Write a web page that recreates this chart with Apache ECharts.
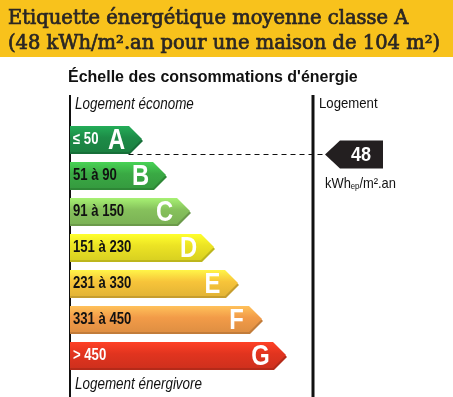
<!DOCTYPE html>
<html>
<head>
<meta charset="utf-8">
<script src="https://cdn.jsdelivr.net/npm/echarts@6/dist/echarts.min.js"></script>
<style>
html, body { margin: 0; padding: 0; background: #fff; }
#chart { width: 453px; height: 397px; }
</style>
</head>
<body>
<div id="chart"></div>
<script>
// energy classes, top to bottom
var classes = ['A', 'B', 'C', 'D', 'E', 'F', 'G'];
var ranges = ['≤ 50', '51 à 90', '91 à 150', '151 à 230', '231 à 330', '331 à 450', '> 450'];
var classMax = [50, 90, 150, 230, 330, 450, 600];
// length of each arrow, in steps
var barSteps = [3, 4, 5, 6, 7, 8, 9];
var barColors = ['#1d8b47', '#3aa944', '#86c15c', '#ece324', '#f7c43a', '#f29b48', '#e1341f'];
var rangeTextColors = ['#fff', '#111', '#111', '#111', '#111', '#111', '#fff'];
// the house
var measured = 48;
var measuredClass = 0;

// Arial-like font squeezed to look like a condensed Helvetica
var SANS = '"Liberation Sans", Arial, sans-serif';
var SQUEEZE = 0.82;

var chart = echarts.init(document.getElementById('chart'));

function shade(hex, k) {
    var c = echarts.color.parse(hex);
    var f = function (v) { return Math.max(0, Math.min(255, Math.round(v * k))); };
    return 'rgb(' + f(c[0]) + ',' + f(c[1]) + ',' + f(c[2]) + ')';
}

function arrowPoints(x0, y0, xt, h) {
    var xb = xt - h / 2;
    return [[x0, y0], [xb, y0], [xt, y0 + h / 2], [xb, y0 + h], [x0, y0 + h]];
}

function renderBar(params, api) {
    var i = api.value(0);
    var c = api.coord([0, i]);
    var t = api.coord([api.value(1), i]);
    var h = api.size([0, 1])[1] * 0.75;
    var y0 = c[1] - h / 2;
    var col = barColors[i];
    return {
        type: 'group',
        children: [
            {
                type: 'polygon',
                shape: { points: arrowPoints(c[0], y0 + 2, t[0] + 1, h - 1) },
                style: { fill: shade(col, 0.8) }
            },
            {
                type: 'polygon',
                shape: { points: arrowPoints(c[0], y0, t[0], h - 1) },
                style: {
                    fill: new echarts.graphic.LinearGradient(0, 0, 0, 1, [
                        { offset: 0, color: echarts.color.lift(col, -0.25) },
                        { offset: 0.45, color: col },
                        { offset: 1, color: shade(col, 0.92) }
                    ])
                }
            },
            {
                type: 'text',
                x: c[0] + 3, y: c[1],
                scaleX: SQUEEZE,
                style: {
                    text: ranges[i], fill: rangeTextColors[i],
                    font: 'bold 16px ' + SANS,
                    verticalAlign: 'middle', align: 'left'
                }
            },
            {
                type: 'text',
                x: t[0] - h / 2 - 12, y: c[1] + 1,
                scaleX: 0.82,
                style: {
                    text: classes[i], fill: '#fff',
                    font: 'bold 29px ' + SANS,
                    verticalAlign: 'middle', align: 'center'
                }
            }
        ]
    };
}

function renderMarker(params, api) {
    var i = api.value(0);
    var v = api.value(1);
    var cs = params.coordSys;
    var c = api.coord([0, i]);
    var t = api.coord([barSteps[i], i]);
    var pitch = api.size([0, 1])[1];
    var h = pitch * 0.75;
    var lo = i > 0 ? classMax[i - 1] : 0;
    var frac = (v - lo) / (classMax[i] - lo);
    var y = Math.round(c[1] + (frac - 0.5) * pitch * 0.85) + 0.5;
    var right = cs.x + cs.width;
    var tip = right + 12;
    var bh = 28;
    return {
        type: 'group',
        children: [
            {
                type: 'line',
                shape: { x1: t[0] - h / 2, y1: y, x2: tip, y2: y },
                style: { stroke: '#111', lineWidth: 1, lineDash: [5, 4] }
            },
            {
                type: 'polygon',
                shape: { points: [[tip, y], [tip + 15, y - bh / 2], [tip + 58, y - bh / 2], [tip + 58, y + bh / 2], [tip + 15, y + bh / 2]] },
                style: { fill: '#231f20' }
            },
            {
                type: 'text',
                x: tip + 36, y: y + 1,
                scaleX: 0.9,
                style: {
                    text: String(v), fill: '#fff',
                    font: 'bold 20px ' + SANS,
                    align: 'center', verticalAlign: 'middle'
                }
            },
            {
                type: 'text',
                x: tip, y: y + 29,
                scaleX: 0.86,
                style: {
                    text: '{a|kWh}{s|ep}{a|/m².an}',
                    align: 'left', verticalAlign: 'middle',
                    rich: {
                        a: { font: '15px ' + SANS, fill: '#111' },
                        s: { font: '9px ' + SANS, fill: '#111', padding: [7, 0, 0, 0] }
                    }
                }
            }
        ]
    };
}

chart.setOption({
    animation: false,
    backgroundColor: '#fff',
    grid: { left: 70, right: 140, top: 121.5, bottom: 23.5 },
    xAxis: { type: 'value', min: 0, max: 10.125, show: false },
    yAxis: { type: 'category', data: classes, inverse: true, show: false },
    graphic: [
        { type: 'rect', shape: { x: 0, y: 0, width: 453, height: 57 }, style: { fill: '#f8c21c' } },
        {
            type: 'text', x: 8, y: 19,
            style: {
                text: 'Etiquette énergétique moyenne classe A', font: '19.5px "DejaVu Serif", serif',
                fill: '#2a2624', stroke: '#2a2624', lineWidth: 0.7, verticalAlign: 'middle'
            }
        },
        {
            type: 'text', x: 8, y: 44,
            style: {
                text: '(48 kWh/m².an pour une maison de 104 m²)', font: '19.5px "DejaVu Serif", serif',
                fill: '#2a2624', stroke: '#2a2624', lineWidth: 0.7, verticalAlign: 'middle'
            }
        },
        {
            type: 'text', x: 68, y: 77, scaleX: 0.94,
            style: { text: 'Échelle des consommations d\'énergie', font: 'bold 17px ' + SANS, fill: '#111', verticalAlign: 'middle' }
        },
        { type: 'line', shape: { x1: 70, y1: 95, x2: 70, y2: 397 }, style: { stroke: '#111', lineWidth: 2 } },
        { type: 'line', shape: { x1: 313, y1: 95, x2: 313, y2: 397 }, style: { stroke: '#111', lineWidth: 3 } },
        {
            type: 'text', x: 75, y: 105, scaleX: 0.84,
            style: { text: 'Logement économe', font: 'italic 16px ' + SANS, fill: '#111', verticalAlign: 'middle' }
        },
        {
            type: 'text', x: 75, y: 385, scaleX: 0.84,
            style: { text: 'Logement énergivore', font: 'italic 16px ' + SANS, fill: '#111', verticalAlign: 'middle' }
        },
        {
            type: 'text', x: 319, y: 104, scaleX: 0.85,
            style: { text: 'Logement', font: '15.5px ' + SANS, fill: '#111', verticalAlign: 'middle' }
        }
    ],
    series: [
        {
            type: 'custom',
            renderItem: renderBar,
            data: barSteps.map(function (s, i) { return [i, s]; }),
            encode: { x: 1, y: 0 },
            silent: true
        },
        {
            type: 'custom',
            renderItem: renderMarker,
            data: [[measuredClass, measured]],
            encode: { y: 0 },
            silent: true
        }
    ]
});
</script>
</body>
</html>
